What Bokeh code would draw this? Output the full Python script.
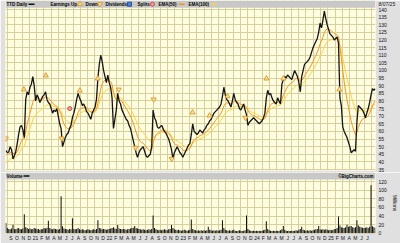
import datetime as dt
from bokeh.plotting import figure
from bokeh.models import FixedTicker, Range1d, Grid
from bokeh.layouts import column
from bokeh.embed import file_html
from bokeh.resources import INLINE
from bokeh.core.properties import value

START = dt.date(2020, 8, 7)

# weekly closes (week 0 = 2020-08-07)
close = [
    47.5, 46, 46.5, 50, 48, 42, 44, 47, 52, 58,
    63, 64, 61, 56, 81, 86, 84, 89, 91, 96,
    90, 80, 84, 82, 79, 81, 83, 84, 86, 81,
    79, 78, 75, 72, 74, 73, 75, 70, 65, 62,
    50, 53, 56, 58, 59, 62, 64, 69, 72, 76,
    81, 85, 82, 80, 77, 78, 76, 73, 72, 70,
    68, 72, 74, 76, 81, 95, 104, 110, 106, 100,
    96, 92, 97, 92, 89, 82, 62, 68, 74, 85,
    80, 78, 74, 72, 70, 68, 67, 64, 62, 58,
    54, 50, 46, 43, 46, 48, 49, 50, 47, 44,
    43, 44, 45, 50, 74, 69, 67, 63, 62, 63,
    64, 62, 60, 59, 57, 55, 52, 48, 42, 46,
    48, 50, 48, 46, 45, 43, 45, 47, 49, 51,
    52, 58, 65, 60, 59, 58, 59, 61, 60, 59,
    61, 62, 64, 65, 67, 68, 70, 72, 73, 74,
    75, 76, 78, 83, 89, 84, 81, 80, 78, 76,
    80, 85, 81, 79, 78, 75, 74, 76, 78, 74,
    71, 64, 66, 67, 68, 69, 68, 67, 66, 65,
    66, 67, 69, 72, 82, 87, 84, 85, 82, 80,
    79, 78, 82, 80, 78, 91, 94, 96, 95, 97,
    96, 95, 94, 97, 100, 98, 96, 92, 86, 96,
    100, 104, 105, 106, 107, 109, 112, 115, 117, 119,
    121, 125, 131, 128, 133, 139, 134, 130, 127, 124,
    123, 122, 120, 121, 122, 118, 82, 77, 63, 60,
    58, 56, 53, 50, 46, 47, 48, 47, 66, 77,
    76, 75, 74, 72, 69, 72, 75, 79, 84, 88,
    87, 88,
]

# weekly peak daily volume, millions
volume_m = [
    24, 12, 10, 9, 11, 20, 10, 9, 11, 12,
    10, 9, 11, 44, 14, 12, 10, 11, 9, 10,
    12, 11, 9, 10, 8, 9, 10, 12, 11, 13,
    29, 12, 10, 9, 11, 10, 9, 8, 10, 86,
    16, 11, 10, 9, 8, 10, 9, 35, 10, 9,
    10, 12, 9, 8, 9, 8, 7, 8, 9, 8,
    7, 8, 9, 8, 10, 30, 12, 11, 9, 10,
    9, 8, 9, 10, 11, 12, 14, 11, 10, 19,
    11, 10, 9, 10, 9, 8, 9, 10, 11, 12,
    13, 17, 12, 11, 10, 9, 8, 9, 8, 7,
    8, 9, 8, 10, 41, 12, 9, 8, 7, 8,
    7, 8, 9, 8, 7, 9, 10, 19, 12, 9,
    8, 7, 8, 7, 6, 7, 8, 7, 6, 7,
    8, 32, 10, 8, 7, 6, 7, 6, 7, 6,
    7, 6, 7, 15, 8, 7, 6, 7, 6, 7,
    6, 7, 8, 30, 12, 8, 7, 6, 7, 6,
    7, 8, 6, 5, 6, 7, 6, 5, 6, 7,
    41, 10, 7, 6, 5, 6, 5, 6, 5, 6,
    5, 6, 7, 8, 28, 10, 7, 6, 5, 6,
    5, 6, 5, 6, 7, 9, 17, 8, 6, 5,
    6, 5, 6, 5, 6, 7, 6, 8, 10, 15,
    8, 7, 6, 7, 6, 7, 6, 7, 8, 9,
    10, 17, 9, 8, 9, 8, 9, 8, 7, 8,
    7, 8, 9, 10, 12, 39, 18, 14, 13, 12,
    14, 20, 15, 16, 17, 14, 13, 14, 30, 18,
    15, 14, 13, 12, 13, 14, 12, 15, 112, 16,
    14, 13,
]

# EMA starting levels read at the left edge
ema50_start = 44
ema100_start = 39

# earnings markers (week index, price level)
earn_up_week = [12.7, 28.2, 52.2, 64.9, 131.9, 143.9, 156.6, 184.1, 196.1, 235.6]
earn_up_price = [87.5, 96.7, 86.8, 94.7, 72.4, 70.4, 83, 94.7, 94.7, 87.5]
earn_dn_week = [0.0, 39.5, 79.7, 91.7, 104.4, 117.1, 169.3]
earn_dn_price = [55.4, 55.4, 87.5, 49.4, 81, 42, 69]

split_week = [45.1]
split_price = [75]

month_labels = ["S", "O", "N", "D"]
for yr in ["21", "22", "23", "24"]:
    month_labels += [yr, "F", "M", "A", "M", "J", "J", "A", "S", "O", "N", "D"]
month_labels += ["25", "F", "M", "A", "M", "J", "J"]

price_ticks = list(range(35, 145, 5))
volume_ticks = [0, 20, 40, 60, 80, 100, 120]

header_texts = ["TTD Daily", "Earnings Up", "Down", "Dividends", "Splits",
                "EMA(50)", "EMA(100)"]
date_text = "8/07/25"
volume_texts = ["Volume", "©BigCharts.com"]

# ---------------------------------------------------------------
days = [7 * i for i in range(len(close))]


def ema(vals, alpha, seed):
    out, e = [], seed
    for val in vals:
        e = e + alpha * (val - e)
        out.append(e)
    return out


ema50 = ema(close, 1 - (1 - 2 / 51) ** 5, ema50_start)
ema100 = ema(close, 1 - (1 - 2 / 101) ** 5, ema100_start)

month_ticks = []
y, m = 2020, 9
for _ in month_labels:
    month_ticks.append((dt.date(y, m, 1) - START).days)
    m += 1
    if m > 12:
        m, y = 1, y + 1
overrides = {t: l for t, l in zip(month_ticks, month_labels)}

grid_days = [8 + 36 * k for k in range(51)]

BG = "#fffde0"
GRID = "#d8d09c"
BORDER = "#e0e0e0"
BAR = "#c8c8c8"
FONT = value("Liberation Sans")
ORANGE = "#f7941d"
YELLOW = "#fdd23a"
TRI_FILL = "#fde8a0"
TRI_LINE = "#e09a30"
INK = "#000000"

X0, X1 = -2, 1828            # x range (days)
FL, FR = 5, 375              # frame left/right, px
# price panel: frame spans px 0..170, price area starts at px 8
P_LO, P_HI = 34.36, 145.91
P_PX = (P_HI - P_LO) / 170.0
# volume panel: frame spans px 0..64 of its figure, bars area starts at px 8
V_LO, V_HI = -0.7, 141.6
V_PX = (V_HI - V_LO) / 64.0
HDR_P = 143.5                # price-scale level of the header text line
HDR_V = 133.4


def xpx(px):
    return X0 + (px - FL) * (X1 - X0) / (FR - FL)


def style_panel(p, yticks, axis_ticks):
    p.background_fill_color = BG
    p.border_fill_color = BORDER
    p.outline_line_color = None
    p.grid.visible = False
    p.add_layout(Grid(dimension=0, ticker=FixedTicker(ticks=grid_days),
                      grid_line_color=GRID, grid_line_width=1), "center")
    p.add_layout(Grid(dimension=1, ticker=FixedTicker(ticks=yticks),
                      grid_line_color=GRID, grid_line_width=1), "center")
    ax = p.yaxis[0]
    ax.ticker = FixedTicker(ticks=axis_ticks)
    ax.axis_line_color = None
    ax.major_tick_line_color = None
    ax.minor_tick_line_color = None
    ax.major_tick_out = 0
    ax.major_tick_in = 0
    ax.major_label_text_font_size = "5px"
    ax.major_label_text_font = "Liberation Sans"
    ax.major_label_text_color = "#111111"
    ax.major_label_standoff = 3


def header_bar(p, top, bottom, ycenter, texts, xs, aligns):
    p.quad(left=[X0], right=[X1], top=[top], bottom=[bottom], fill_color=BAR,
           line_color=None)
    p.text(x=[xpx(v) for v in xs], y=[ycenter] * len(texts), text=texts,
           text_font=FONT, text_font_size=value("4.5px"), text_font_style="bold",
           text_color=INK, text_baseline="middle", text_align=aligns)


# price panel
p = figure(width=400, height=172, x_range=Range1d(X0, X1),
           y_range=Range1d(P_LO, P_HI), toolbar_location=None,
           output_backend="svg", x_axis_location=None, y_axis_location="right",
           title_location=None, min_border=0, min_border_left=FL,
           min_border_right=400 - FR, min_border_top=0, min_border_bottom=2)
style_panel(p, price_ticks, price_ticks + [HDR_P])
p.yaxis.major_label_overrides = {HDR_P: date_text}
p.line(days, ema100, line_color=YELLOW, line_width=1)
p.line(days, ema50, line_color=ORANGE, line_width=1)
p.line(days, close, line_color="#151515", line_width=1.3)
p.scatter([7 * w for w in earn_up_week], earn_up_price, marker="triangle", size=5,
          fill_color=TRI_FILL, line_color=TRI_LINE)
p.scatter([7 * w for w in earn_dn_week], earn_dn_price, marker="inverted_triangle",
          size=5, fill_color=TRI_FILL, line_color=TRI_LINE)
p.scatter([7 * w for w in split_week], split_price, marker="circle", size=4,
          fill_color="#f0a0a0", line_color="#d04848")

# header legend strip (drawn inside the frame, above the price area)
header_bar(p, P_HI, P_HI - 7.3 * P_PX, HDR_P, header_texts,
           [6, 50, 85, 105, 137, 158, 188], "left")
p.segment(x0=[xpx(28), xpx(178), xpx(210)], y0=[HDR_P] * 3,
          x1=[xpx(34), xpx(184), xpx(216)], y1=[HDR_P] * 3,
          line_color=["#111111", ORANGE, YELLOW], line_width=1.5)
p.scatter([xpx(79.5)], [HDR_P], marker="triangle", size=5, fill_color=TRI_FILL,
          line_color=TRI_LINE)
p.scatter([xpx(99.5)], [HDR_P], marker="inverted_triangle", size=5,
          fill_color=TRI_FILL, line_color=TRI_LINE)
p.scatter([xpx(129)], [HDR_P], marker="square", size=4, fill_color="#4a7fd8",
          line_color="#2a4f98")
p.scatter([xpx(152)], [HDR_P], marker="circle", size=4, fill_color="#f0a0a0",
          line_color="#d04848")

# volume panel
v = figure(width=400, height=71, x_range=p.x_range, y_range=Range1d(V_LO, V_HI),
           toolbar_location=None, output_backend="svg", y_axis_location="right",
           title_location=None, min_border=0, min_border_left=FL,
           min_border_right=400 - FR, min_border_top=0, min_border_bottom=7)
style_panel(v, volume_ticks, volume_ticks)
v.yaxis.axis_label = "Millions"
v.yaxis.axis_label_text_font_size = "5px"
v.yaxis.axis_label_text_font = "Liberation Sans"
v.yaxis.axis_label_text_font_style = "normal"
v.yaxis.axis_label_text_color = "#111111"
v.yaxis.axis_label_standoff = 2
xa = v.xaxis[0]
xa.ticker = FixedTicker(ticks=month_ticks)
xa.major_label_overrides = overrides
xa.axis_line_color = None
xa.major_tick_line_color = None
xa.minor_tick_line_color = None
xa.major_tick_out = 0
xa.major_tick_in = 0
xa.major_label_text_font_size = "5px"
xa.major_label_text_font = "Liberation Sans"
xa.major_label_text_color = "#111111"
xa.major_label_standoff = 1
v.vbar(x=days, top=volume_m, width=5, bottom=0, fill_color="#111111",
       line_color=None)
header_bar(v, V_HI, V_HI - 7.3 * V_PX, HDR_V, volume_texts, [6, 373],
           ["left", "right"])
v.segment(x0=[xpx(23)], y0=[HDR_V], x1=[xpx(29)], y1=[HDR_V],
          line_color="#111111", line_width=1.5)

layout = column(p, v, spacing=0)
open("out.html", "w").write(file_html(layout, INLINE))
